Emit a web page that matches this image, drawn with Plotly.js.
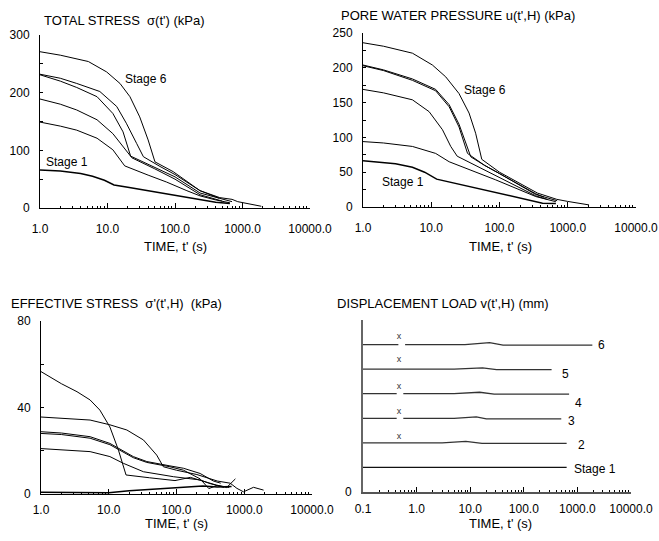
<!DOCTYPE html>
<html>
<head>
<meta charset="utf-8">
<script src="https://cdn.plot.ly/plotly-3.0.1.min.js"></script>
<style>html,body{margin:0;padding:0;background:#fff;}#chart{width:659px;height:541px;}</style>
</head>
<body>
<div id="chart"></div>
<script>
// ---------- TOTAL STRESS sigma(t') (kPa) ----------
const s1_t = [1, 2, 4, 6, 9, 12.5, 20, 40, 80, 150, 250, 400, 650];
const s1_v = [66, 64, 60, 55, 48, 40, 36, 30, 24, 19, 14, 10, 8];
const s2_t = [1, 2, 3.5, 7, 12, 18, 40, 75, 150, 235, 400, 650];
const s2_v = [149, 142, 135, 121, 101, 73, 57, 45, 30, 21, 14, 9];
const s3_t = [1, 2, 3.5, 7, 12, 17, 23, 50, 100, 235, 500];
const s3_v = [189, 180, 170, 153, 129, 106, 87, 68, 50, 23, 12];
const s4_t = [1, 2, 3.5, 7, 12, 17, 22, 50, 100, 235, 500, 700];
const s4_v = [231, 220, 209, 193, 164, 132, 90, 70, 54, 26, 15, 11];
const s5_t = [1, 2, 3.5, 7.7, 13.7, 19, 27, 34, 60, 100, 235, 450];
const s5_v = [232, 225, 216, 202, 176, 147, 112, 89, 72, 58, 30, 17];
const s6_t = [1, 2, 5.2, 9.7, 15.3, 21.5, 30, 40, 50.5, 94, 235, 460, 700, 850, 1900];
const s6_v = [271, 265, 254, 236, 216, 193, 158, 118, 80, 63, 30, 18, 15, 11, 3];

// ---------- PORE WATER PRESSURE u(t',H) (kPa) ----------
const u1_t = [1, 2, 3, 5.3, 8, 12, 30, 88, 270, 427, 670];
const u1_v = [66.5, 64, 62, 57, 50, 40, 31, 20.5, 9, 5.5, 5];
const u2_t = [1, 2, 5.3, 11.6, 18.3, 40, 88, 340, 670];
const u2_v = [94, 92, 87, 77, 65, 52, 39, 15, 7.6];
const u3_t = [1, 2, 5.3, 9.3, 14.6, 19.3, 24, 50, 100, 340, 500];
const u3_v = [169, 164, 154, 137, 111, 87, 73, 57, 42, 16, 11];
const u4_t = [1, 2, 5.3, 11.6, 18.3, 25.5, 34, 60, 100, 340, 700];
const u4_v = [203, 196, 182, 167, 144, 115, 77, 60, 48, 18, 9];
const u5_t = [1, 2, 5.3, 11.6, 18.3, 25.5, 38, 60, 100, 340, 450];
const u5_v = [204, 197, 184, 169, 147, 119, 72, 60, 48, 19, 14];
const u6_t = [1, 2, 5.3, 10.4, 16.3, 25.5, 35.8, 44.7, 55, 100, 360, 690, 1000, 2050];
const u6_v = [236, 231, 221, 204, 187, 163, 135, 106, 68.5, 50, 20, 11, 8, 3];

// ---------- EFFECTIVE STRESS sigma'(t',H) (kPa) ----------
const e1_t = [1, 5, 10, 20, 50, 90, 245, 400, 650];
const e1_v = [0.8, 0.7, 0.6, 1.5, 2.4, 2.9, 3.7, 3.2, 3.5];
const e2_t = [1, 2, 3.4, 5.3, 7.4, 10.4, 13.9, 18, 40, 95, 160, 250, 400, 600];
const e2_v = [56.6, 51, 47.3, 43.5, 38.8, 31, 20.3, 8.8, 7.5, 6.2, 7.7, 6, 4, 3];
const e3_t = [1, 2, 5.3, 10.4, 16.4, 32.5, 90, 223, 300, 500];
const e3_v = [21, 20.5, 19.6, 17.3, 14.2, 10.3, 8, 6.5, 5, 3];
const e4_t = [1, 2, 5.3, 10.4, 23, 36.5, 80, 127, 223, 300, 400, 550, 740];
const e4_v = [28, 27.5, 25.8, 22.8, 16.8, 14.6, 12.6, 11, 7, 2.5, 4, 3, 7];
const e5_t = [1, 2, 5.3, 10.4, 23, 36.5, 80, 127, 223, 350, 450];
const e5_v = [28.8, 28.2, 26.5, 23.4, 17.3, 15, 13, 11.9, 9.5, 6, 5];
const e6_t = [1, 2, 5.3, 10.4, 18.5, 32.5, 51, 64, 100, 200, 400, 620, 780, 975, 1370, 1930];
const e6_v = [35.6, 35, 34.2, 32, 29.6, 25, 18, 12.6, 11, 9, 6, 5, 2.6, 1, 3.1, 1.8];

// ---------- DISPLACEMENT LOAD v(t',H) (mm) ----------
const d1_t = [0.1, 630];
const d1_v = [1, 1];
const d2_t = [0.1, 3, 8.3, 16.6, 630];
const d2_v = [2, 2, 2.06, 1.98, 1.98];
const d3_t = [0.1, 0.425, null, 0.565, 5, 13, 20, 500];
const d3_v = [3, 3, null, 3, 3, 3.06, 2.98, 2.98];
const d4_t = [0.1, 0.425, null, 0.565, 5, 15, 28, 700];
const d4_v = [4, 4, null, 4, 4, 4.06, 3.98, 3.98];
const d5_t = [0.1, 5, 17, 31, 330];
const d5_v = [5, 5, 5.05, 4.98, 4.98];
const d6_t = [0.1, 0.457, null, 0.61, 8, 23, 41, 1900];
const d6_v = [6, 6, null, 6, 6, 6.08, 5.98, 5.98];
const mark_t = [0.47, 0.47, 0.47, 0.47, 0.47];
const mark_v = [2.23, 3.25, 4.3, 5.38, 6.3];

const FONT = 'Liberation Sans, Arial, sans-serif';

function line(x, y, xa, ya, w, c) {
  return {x: x, y: y, xaxis: xa, yaxis: ya, type: 'scatter', mode: 'lines',
          line: {color: c || '#000', width: w || 1}, connectgaps: false, hoverinfo: 'skip'};
}

const data = [
  line(s1_t, s1_v, 'x', 'y', 1.5), line(s2_t, s2_v, 'x', 'y'), line(s3_t, s3_v, 'x', 'y'),
  line(s4_t, s4_v, 'x', 'y'), line(s5_t, s5_v, 'x', 'y'), line(s6_t, s6_v, 'x', 'y'),
  line(u1_t, u1_v, 'x2', 'y2', 1.5), line(u2_t, u2_v, 'x2', 'y2'), line(u3_t, u3_v, 'x2', 'y2'),
  line(u4_t, u4_v, 'x2', 'y2'), line(u5_t, u5_v, 'x2', 'y2'), line(u6_t, u6_v, 'x2', 'y2'),
  line(e1_t, e1_v, 'x3', 'y3', 1.5), line(e2_t, e2_v, 'x3', 'y3'), line(e3_t, e3_v, 'x3', 'y3'),
  line(e4_t, e4_v, 'x3', 'y3'), line(e5_t, e5_v, 'x3', 'y3'), line(e6_t, e6_v, 'x3', 'y3'),
  line(d1_t, d1_v, 'x4', 'y4', 1.3, '#111'), line(d2_t, d2_v, 'x4', 'y4', 1.3, '#333'),
  line(d3_t, d3_v, 'x4', 'y4', 1.3, '#333'), line(d4_t, d4_v, 'x4', 'y4', 1.3, '#333'),
  line(d5_t, d5_v, 'x4', 'y4', 1.3, '#333'), line(d6_t, d6_v, 'x4', 'y4', 1.3, '#333'),
  {x: mark_t, y: mark_v, xaxis: 'x4', yaxis: 'y4', type: 'scatter', mode: 'text',
   text: mark_t.map(() => 'x'), textfont: {family: FONT, size: 9, color: '#333'}, hoverinfo: 'skip'}
];

const W = 659, H = 541;
const px = v => v / W;
const py = v => 1 - v / H;

function xaxis(d0, d1, range, anchor, standoff, lc, lw) {
  return {type: 'log', domain: [px(d0), px(d1)], range: range, anchor: anchor,
    showline: true, linecolor: lc || '#000', linewidth: lw || 1, mirror: false,
    ticks: 'inside', ticklen: 5, tickcolor: '#000', tickwidth: 1,
    dtick: 1, tickformat: '.1f', showgrid: false, zeroline: false,
    minor: {ticks: 'inside', ticklen: 2.5, dtick: 'D1', tickcolor: '#000', tickwidth: 1, showgrid: false},
    ticklabelstandoff: standoff, tickfont: {family: FONT, size: 12, color: '#000'}, fixedrange: true};
}
function yaxis(top, bot, range, dtick, minor, anchor, lc, lw) {
  const a = {domain: [py(bot), py(top)], range: range, anchor: anchor,
    showline: true, linecolor: lc || '#000', linewidth: lw || 1,
    ticks: 'inside', ticklen: 3, tickcolor: '#000', dtick: dtick, tick0: 0,
    showgrid: false, zeroline: false, ticklabelstandoff: 7,
    tickfont: {family: FONT, size: 12, color: '#000'}, fixedrange: true};
  if (minor) a.minor = {ticks: 'inside', ticklen: 3, dtick: minor, tickcolor: '#000', showgrid: false};
  return a;
}

function ann(text, x, y, xanchor, size) {
  return {text: text, xref: 'paper', yref: 'paper', x: px(x), y: py(y), xanchor: xanchor || 'left',
    yanchor: 'middle', showarrow: false, font: {family: FONT, size: size || 13, color: '#000'}};
}
function dann(text, x, y, xr, yr, xanchor) {
  return {text: text, xref: xr, yref: yr, x: x, y: y, xanchor: xanchor || 'center', yanchor: 'middle',
    showarrow: false, font: {family: FONT, size: 12, color: '#000'}};
}

const y4 = yaxis(320, 492, [0, 7], 1, null, 'x4', '#666', 2);
y4.tickmode = 'array'; y4.tickvals = [0]; y4.ticktext = ['0']; y4.ticks = '';

const layout = {
  width: W, height: H, margin: {l: 0, r: 0, t: 0, b: 0},
  paper_bgcolor: '#fff', plot_bgcolor: '#fff', showlegend: false,
  font: {family: FONT, color: '#000'},
  xaxis: xaxis(40, 310, [0, 4], 'y', 10),
  yaxis: yaxis(35, 208, [0, 300], 100, 50, 'x'),
  xaxis2: xaxis(363, 636, [0, 4], 'y2', 10),
  yaxis2: yaxis(33, 207, [0, 250], 50, 25, 'x2'),
  xaxis3: xaxis(41, 312, [0, 4], 'y3', 5),
  yaxis3: yaxis(321, 494, [0, 80], 40, 20, 'x3'),
  xaxis4: xaxis(363, 631, [-1, 4], 'y4', 5, '#555', 1.5),
  yaxis4: y4,
  annotations: [
    ann("TOTAL STRESS  σ(t') (kPa)", 42, 20),
    ann("PORE WATER PRESSURE u(t',H) (kPa)", 339, 15),
    ann("EFFECTIVE STRESS  σ'(t',H)  (kPa)", 9, 303),
    ann("DISPLACEMENT LOAD v(t',H) (mm)", 335, 303),
    ann("TIME, t' (s)", 175, 246, 'center'),
    ann("TIME, t' (s)", 500, 246, 'center'),
    ann("TIME, t' (s)", 176, 523, 'center'),
    ann("TIME, t' (s)", 500, 523, 'center'),
    dann('Stage 6', Math.log10(37), 224, 'x', 'y'),
    dann('Stage 1', Math.log10(2.47), 80, 'x', 'y'),
    dann('Stage 6', Math.log10(61.5), 168, 'x2', 'y2'),
    dann('Stage 1', Math.log10(3.9), 36, 'x2', 'y2'),
    dann('6', Math.log10(2770), 6, 'x4', 'y4'),
    dann('5', Math.log10(590), 4.82, 'x4', 'y4'),
    dann('4', Math.log10(1070), 3.63, 'x4', 'y4'),
    dann('3', Math.log10(760), 2.9, 'x4', 'y4'),
    dann('2', Math.log10(1170), 1.92, 'x4', 'y4'),
    dann('Stage 1', Math.log10(790), 0.94, 'x4', 'y4', 'left')
  ]
};

Plotly.newPlot('chart', data, layout, {staticPlot: true, displayModeBar: false});
</script>
</body>
</html>
